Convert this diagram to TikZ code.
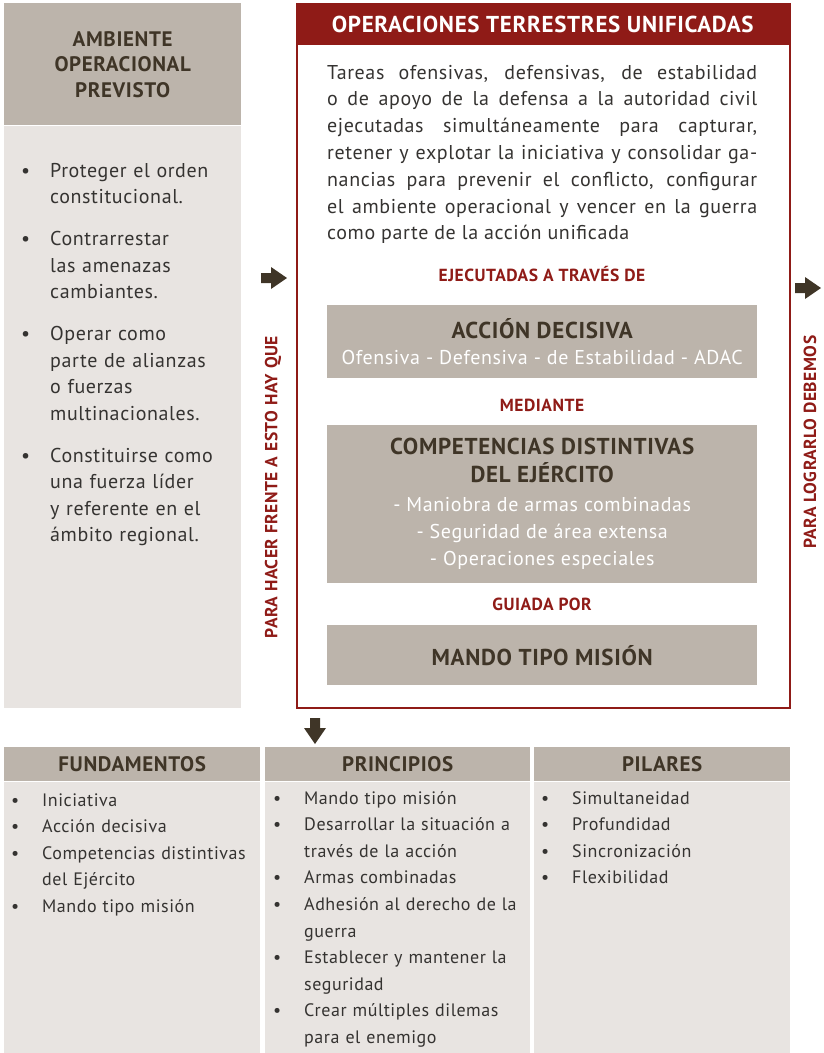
\documentclass[tikz,border=0pt]{standalone}
\usepackage{fontspec}
\setmainfont{PT Sans}[LetterSpace=3]
\definecolor{taupe}{HTML}{BCB4AB}
\definecolor{sand}{HTML}{E8E4E1}
\definecolor{bordo}{HTML}{8F1B17}
\definecolor{ink}{HTML}{3F3527}
\definecolor{txt}{HTML}{353331}
\def\blockarrow(#1)(#2){\fill[ink, shift={(#1)}, rotate=#2] (-13,-5) -- (-3,-5) -- (-3,-11) -- (13,0) -- (-3,11) -- (-3,5) -- (-13,5) -- cycle;}
\newcommand\bula{\leavevmode\llap{\textbullet\hspace{20pt}}}
\newcommand\bulb{\leavevmode\llap{\textbullet\hspace{23pt}}}
\tikzset{
  headbox/.style={fill=taupe, inner sep=0, text=ink, font=\bfseries\fontsize{21}{25.5}\selectfont, align=center, anchor=north west},
  bodybox/.style={fill=sand, inner sep=0, anchor=north west},
  listtext/.style={inner sep=0, text=txt, align=left, anchor=base west},
  linklabel/.style={inner sep=0, text=bordo, font=\bfseries\fontsize{17.5}{20}\selectfont},
  graybox/.style={fill=taupe, inner sep=0, minimum width=430, text=ink, align=center, anchor=north west, font=\bfseries\fontsize{23}{28}\selectfont},
}
\newcommand\wline[1]{{\mdseries\color{white}\fontsize{20}{27}\selectfont #1}}

\begin{document}
\begin{tikzpicture}[x=1pt, y=-1pt]
		\useasboundingbox (0,0) rectangle (823,1053);
		%%%%% START %%%%%
		
		% ambiente operacional
		\node[headbox, minimum width=237, minimum height=122] (ambHead) at (4,3) {AMBIENTE\\OPERACIONAL\\PREVISTO};
		\node[bodybox, minimum width=237, minimum height=582] (ambBody) at (ambHead.south west) {};
		\node[listtext, text width=188, font=\fontsize{20}{26.5}\selectfont] (ambList) at (50,177) {\bula Proteger el orden\\constitucional.\\[15.5pt]
			\bula Contrarrestar\\las amenazas\\cambiantes.\\[15.5pt]
			\bula Operar como\\parte de alianzas\\o fuerzas\\multinacionales.\\[15.5pt]
			\bula Constituirse como\\una fuerza líder\\y referente en el\\ámbito regional.};
		
		% operaciones terrestres unificadas
		\node[draw=bordo, line width=2, minimum width=493, minimum height=704, anchor=north west, inner sep=0] (frame) at (296,3) {};
		\node[fill=bordo, minimum width=493, minimum height=42, anchor=north west, inner sep=0, text=white, font=\bfseries\fontsize{23}{26}\selectfont] (opsHead) at (296,3) {OPERACIONES TERRESTRES UNIFICADAS};
		\node[inner sep=0, text width=430, align=justify, anchor=base west, text=txt, font=\fontsize{20}{26.8}\selectfont] (opsText) at (327,79) {Tareas ofensivas, defensivas, de estabilidad\linebreak
			o de apoyo de la defensa a la autoridad civil\linebreak
			ejecutadas simultáneamente para capturar,\linebreak
			retener y explotar la iniciativa y consolidar ga-\linebreak
			nancias para prevenir el conflicto, configurar\linebreak
			el ambiente operacional y vencer en la guerra\linebreak
			como parte de la acción unificada};
		
		\node[linklabel] (ejecLbl) at (542,274) {EJECUTADAS A TRAVÉS DE};
		\node[graybox, minimum height=73] (accion) at (327,305) {ACCIÓN DECISIVA\\[-2pt]
			\wline{Ofensiva - Defensiva - de Estabilidad - ADAC}};
		
		\node[linklabel] (medLbl) at (542,405) {MEDIANTE};
		\node[graybox, minimum height=158] (compet) at (327,425) {COMPETENCIAS DISTINTIVAS\\DEL EJÉRCITO\\[1pt]
			\wline{- Maniobra de armas combinadas}\\[-1pt]
			\wline{- Seguridad de área extensa}\\[-1pt]
			\wline{- Operaciones especiales}};
		
		\node[linklabel] (guiLbl) at (542,604) {GUIADA POR};
		\node[graybox, minimum height=60] (mando) at (327,625) {MANDO TIPO MISIÓN};
		
		% etiquetas verticales y flechas
		\node[linklabel, rotate=90] (haceLbl) at (273,487) {PARA HACER FRENTE A ESTO HAY QUE};
		\node[linklabel, rotate=90] (lograLbl) at (810,442) {PARA LOGRARLO DEBEMOS};
		\blockarrow(274,278)(0);
		\blockarrow(808,288)(0);
		\blockarrow(315,731)(-90);
		
		% fundamentos, principios, pilares
		\node[headbox, minimum width=256, minimum height=34] (fundHead) at (4,747) {FUNDAMENTOS};
		\node[bodybox, minimum width=256, minimum height=272] (fundBody) at (fundHead.south west) {};
		\node[headbox, minimum width=265, minimum height=34] (princHead) at (265,747) {PRINCIPIOS};
		\node[bodybox, minimum width=265, minimum height=272] (princBody) at (princHead.south west) {};
		\node[headbox, minimum width=256, minimum height=34] (pilHead) at (534,747) {PILARES};
		\node[bodybox, minimum width=256, minimum height=272] (pilBody) at (pilHead.south west) {};
		
		\node[listtext, text width=215, font=\fontsize{18}{26.6}\selectfont] (fundList) at (42,806) {\bulb Iniciativa\\
			\bulb Acción decisiva\\
			\bulb Competencias distintivas\\del Ejército\\
			\bulb Mando tipo misión};
		\node[listtext, text width=225, font=\fontsize{18}{26.6}\selectfont] (princList) at (304,804) {\bulb Mando tipo misión\\
			\bulb Desarrollar la situación a\\través de la acción\\
			\bulb Armas combinadas\\
			\bulb Adhesión al derecho de la\\guerra\\
			\bulb Establecer y mantener la\\seguridad\\
			\bulb Crear múltiples dilemas\\para el enemigo};
		\node[listtext, text width=215, font=\fontsize{18}{26.6}\selectfont] (pilList) at (572,804) {\bulb Simultaneidad\\
			\bulb Profundidad\\
			\bulb Sincronización\\
			\bulb Flexibilidad};
		
		%%%%% END %%%%%
	\end{tikzpicture}
\end{document}
